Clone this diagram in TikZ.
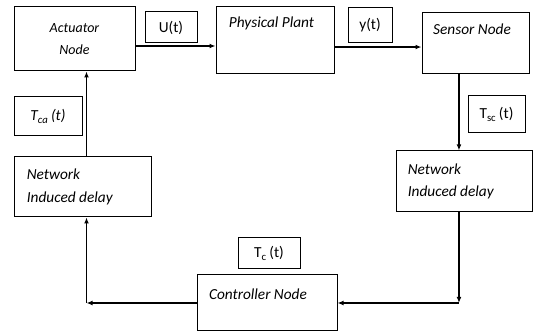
\documentclass[tikz,border=0pt]{standalone}
\usepackage{fontspec}
\setmainfont{Carlito}
\usepackage{tikz}
\usetikzlibrary{positioning}
\usetikzlibrary{arrows.meta}

\begin{document}
\begin{tikzpicture}[x=0.75pt,y=-0.75pt,
  block/.style={draw, line width=0.75pt, inner sep=0pt},
  tagbox/.style={draw, line width=0.75pt, inner sep=0pt, font=\fontsize{11.5}{13}\selectfont},
  lbl/.style={inner sep=0pt, font=\fontsize{11.5}{13}\selectfont\itshape},
  conn/.style={line width=1pt, -{Latex[length=4.5pt,width=3.6pt]}}]
\useasboundingbox (0,0) rectangle (533,334);

% blocks
\node[block,
      minimum width=90.75pt,
      minimum height=48pt,
      align=center,
      font=\fontsize{10.5}{12}\selectfont\itshape
     ]
     (actuator) at (74.5,39) {Actuator\\[5pt]Node};
\node[block,
      minimum width=88.5pt,
      minimum height=50.25pt
     ]
     (plant) at (275,40.5) {};
\node[block,
      minimum width=80.25pt,
      minimum height=45.75pt
     ]
     (sensor) at (475.5,43.5) {};
\node[block,
      minimum width=102pt,
      minimum height=45.75pt
     ]
     (netR) at (464,181.5) {};
\node[block,
      minimum width=105pt,
      minimum height=42pt
     ]
     (controller) at (267,303) {};
\node[block,
      minimum width=102.75pt,
      minimum height=45pt
     ]
     (netL) at (82.5,187) {};

% texts inside blocks
\node[lbl] (plantText) at ([xshift=-2.6pt,yshift=-12.75pt]plant.north) {Physical Plant};
\node[lbl] (sensorText) at ([xshift=-2.6pt,yshift=-12.75pt]sensor.north) {Sensor Node};
\node[lbl] (controllerText) at ([xshift=-6.75pt,yshift=-15pt]controller.north) {Controller Node};
\node[lbl, align=left, anchor=west] (netRText) at ([xshift=9pt]netR.west) {Network\\[4pt]Induced delay};
\node[lbl, align=left, anchor=west] (netLText) at ([xshift=9.75pt]netL.west) {Network\\[4pt]Induced delay};

% signal tags
\node[tagbox, minimum width=39pt, minimum height=23.25pt] (uTag) at (171,27.5) {U(t)};
\node[tagbox, minimum width=33pt, minimum height=26.25pt] (yTag) at (370,25.5) {y(t)};
\node[tagbox, minimum width=42.75pt, minimum height=27.75pt] (scTag) at (496.5,114.5) {T\textsubscript{sc}\,(t)};
\node[tagbox, minimum width=46.5pt, minimum height=23.25pt] (cTag) at (269,253.5) {T\textsubscript{c}\,(t)};
\node[tagbox, minimum width=51pt, minimum height=29.25pt] (caTag) at (48,116.5) {\textit{T\textsubscript{ca}\,(t)}};

% connectors
\coordinate (rLine) at ([xshift=-12.4pt]sensor.south);
\coordinate (lLine) at ([xshift=3pt]netL.north);
\coordinate (rCorner) at (rLine |- controller.east);
\coordinate (lCorner) at (lLine |- controller.west);
\draw[conn] ([yshift=-5.25pt]actuator.east) -- ([yshift=-5.25pt]actuator.east -| plant.west);
\draw[conn] ([yshift=-4.9pt]plant.east) -- ([yshift=-4.9pt]plant.east -| sensor.west);
\draw[conn] (rLine) -- (rLine |- netR.north);
\draw[conn] (rLine |- netR.south) -- (rCorner);
\draw[conn] (rCorner) -- (controller.east);
\draw[conn] (controller.west) -- (lCorner);
\draw[conn] (lCorner) -- (lLine |- netL.south);
\draw[conn] (lLine) -- (lLine |- actuator.south);

\end{tikzpicture}
\end{document}
